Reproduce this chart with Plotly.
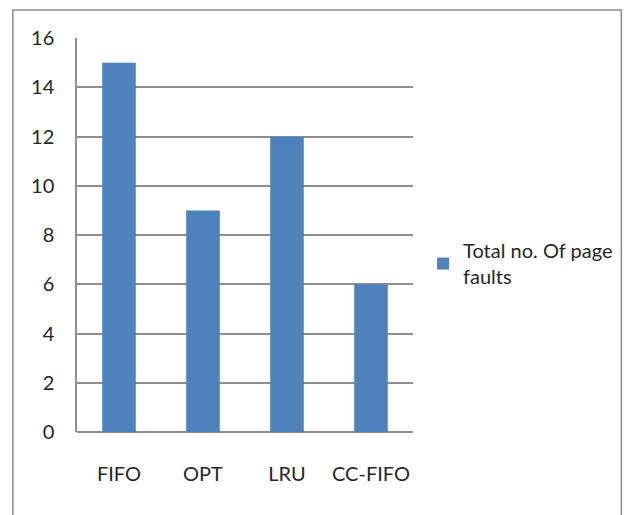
import plotly.graph_objects as go

categories = ["FIFO", "OPT", "LRU", "CC-FIFO"]
page_faults = [15, 9, 12, 6]
series_name = "Total no. Of page<br>faults"
y_ticks = [0, 2, 4, 6, 8, 10, 12, 14, 16]

FONT = "Lato, sans-serif"
GRID = "#8f8f8f"
TXT = "#262626"

fig = go.Figure()
fig.add_trace(go.Bar(
    x=categories, y=page_faults, name=series_name,
    marker=dict(color="#4f81bd", line=dict(width=0)),
    showlegend=True,
))

fig.update_layout(
    width=630, height=515,
    margin=dict(l=77, r=213, t=38, b=82.5),
    paper_bgcolor="white", plot_bgcolor="white",
    font=dict(family=FONT, size=20, color=TXT),
    bargap=0.6,
    showlegend=True,
    legend=dict(x=1.03, y=0.51, xanchor="left", yanchor="top",
                font=dict(family=FONT, size=20, color=TXT),
                itemwidth=30, tracegroupgap=0, bgcolor="rgba(0,0,0,0)"),
    xaxis=dict(showgrid=False, zeroline=False, showline=False,
               ticks="", ticklabelstandoff=28, tickfont=dict(size=20)),
    yaxis=dict(range=[0, 16], tickvals=y_ticks, showgrid=True,
               gridcolor=GRID, gridwidth=1.5, zeroline=True,
               zerolinecolor=GRID, zerolinewidth=1.5,
               showline=True, linecolor=GRID, linewidth=1.5,
               ticks="", ticklabelstandoff=17, tickfont=dict(size=20)),
    shapes=[dict(type="rect", xref="paper", yref="paper",
                 x0=-0.191, x1=1.62, y0=-0.25, y1=1.071,
                 line=dict(color="#8c8c8c", width=1.5),
                 fillcolor="rgba(0,0,0,0)", layer="below")],
)

fig.write_html("out.html")
